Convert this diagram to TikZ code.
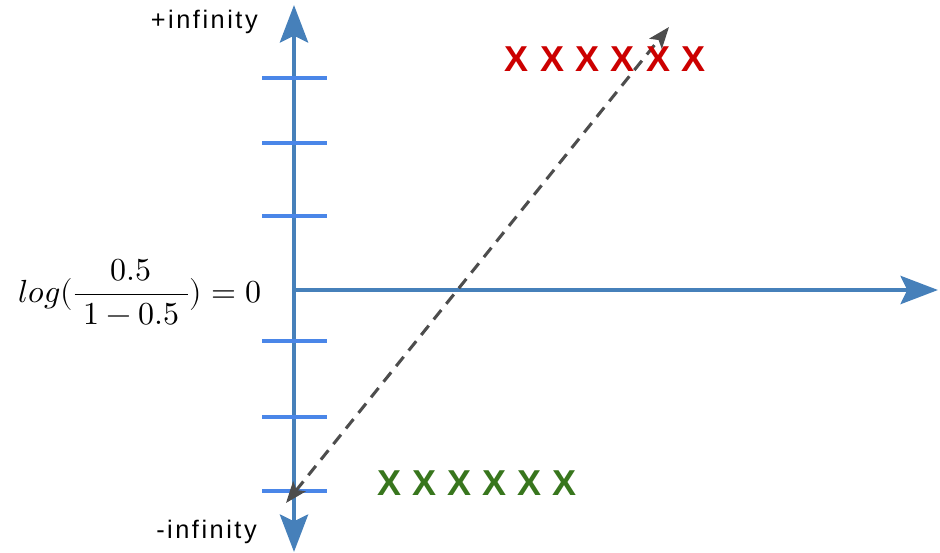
\documentclass[tikz,border=0pt]{standalone}
\usepackage{fontspec}
\usepackage{unicode-math}
\setmainfont{Liberation Sans}
\usepackage{tikz}
\usetikzlibrary{arrows.meta, positioning}
\definecolor{AxisBlue}{RGB}{70, 128, 186}
\definecolor{TickBlue}{RGB}{74, 134, 232}
\definecolor{DashGray}{RGB}{77, 77, 77}
\definecolor{MarkRed}{RGB}{204, 0, 0}
\definecolor{MarkGreen}{RGB}{56, 118, 29}

\begin{document}
\begin{tikzpicture}[
    x=0.75pt, y=-0.75pt,
    bigtip/.tip={Stealth[length=28pt, width=21pt, inset=5pt]},
    smalltip/.tip={Stealth[length=16pt, width=12pt, inset=3.5pt]},
    axisline/.style={draw=AxisBlue, line width=3.6pt},
    tickline/.style={draw=TickBlue, line width=3.6pt},
    dashline/.style={draw=DashGray, line width=2.3pt, dash pattern=on 9pt off 6pt, smalltip-smalltip},
    endlabel/.style={inner sep=0pt, font=\fontsize{19}{21}\selectfont\addfontfeature{LetterSpace=10}},
    xmark/.style={inner sep=0pt, font=\fontsize{27}{30}\selectfont\bfseries}
  ]
    \useasboundingbox (0,0) rectangle (940,553);

    % axes
    \coordinate (ytop) at (294,5);
    \coordinate (ybot) at (294,552);
    \coordinate (orig) at (294,290);
    \coordinate (xend) at (938,290);
    \draw[axisline, bigtip-bigtip] (ybot) -- (ytop);
    \draw[axisline, -bigtip] (orig) -- (xend);

    % ticks on the vertical axis
    \foreach \ty in {78,143,216,341,417,491}
      \draw[tickline] (262,\ty) -- (327,\ty);

    % labels
    \node[endlabel, anchor=base east] (posinf) at (258,28) {+infinity};
    \node[endlabel, anchor=base west] (neginf) at (156,538) {-infinity};
    \node[inner sep=0pt, font=\fontsize{24}{28}\selectfont] (logeq) at (140,292)
      {$\displaystyle log(\frac{0.5}{\;1-0.5\;})=0$};

    % dashed decision line
    \coordinate (dlow) at (286,503);
    \coordinate (dhigh) at (669,27);
    \draw[dashline] (dlow) -- (dhigh);

    % class marks
    \foreach \i in {0,...,5}
      \node[xmark, text=MarkRed] (red\i) at (517+35.3*\i,59) {X};
    \foreach \i in {0,...,5}
      \node[xmark, text=MarkGreen] (green\i) at (390+35*\i,483) {X};
\end{tikzpicture}
\end{document}
